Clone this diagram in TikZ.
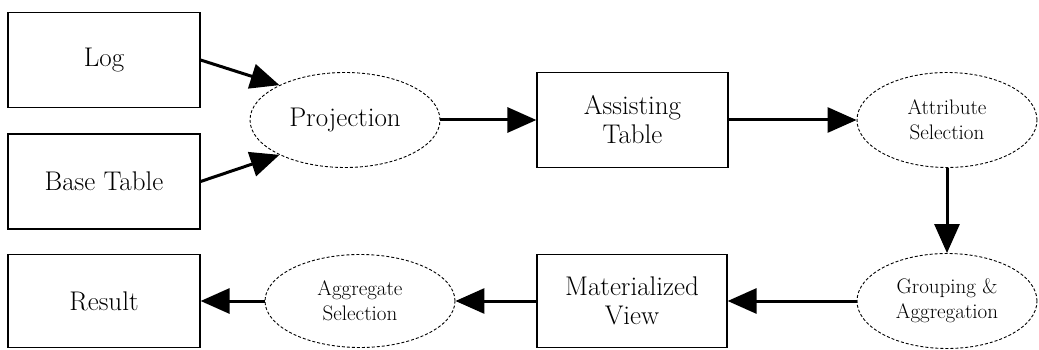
\documentclass[tikz,border=0pt]{standalone}
\usepackage{fontspec}
\usetikzlibrary{arrows.meta,shapes.geometric}
\begin{document}
\begin{tikzpicture}[x=1pt,y=-1pt,
  boxnode/.style={draw=black,line width=1.2pt,rectangle,inner sep=0pt,font=\rmfamily\fontsize{27}{29}\selectfont,align=center},
  ellnode/.style={draw=black,line width=0.9pt,densely dashed,ellipse,inner sep=0pt,align=center},
  bigtxt/.style={font=\rmfamily\fontsize{27}{29}\selectfont},
  smalltxt/.style={font=\rmfamily\fontsize{21}{25}\selectfont},
  flow/.style={line width=3pt,-{Triangle[length=29pt,width=25pt]}}]
\useasboundingbox (0,0) rectangle (1039,350);
\node[boxnode,minimum width=192pt,minimum height=95pt] (log) at (104,60) {Log};
\node[boxnode,minimum width=192pt,minimum height=95pt] (base) at (104,181.5) {Base Table};
\node[boxnode,minimum width=192pt,minimum height=93pt] (result) at (104,301) {Result};
\node[ellnode,bigtxt,minimum width=190pt,minimum height=95pt] (proj) at (345,120) {Projection};
\node[boxnode,minimum width=191pt,minimum height=95pt] (assist) at (632.5,120) {Assisting\\Table};
\node[ellnode,smalltxt,minimum width=180pt,minimum height=95pt] (attr) at (947,120) {Attribute\\Selection};
\node[ellnode,smalltxt,minimum width=180pt,minimum height=95pt] (group) at (947,301) {Grouping \&\\Aggregation};
\node[boxnode,minimum width=190pt,minimum height=93pt] (mat) at (632,301) {Materialized\\View};
\node[ellnode,smalltxt,minimum width=190pt,minimum height=93pt] (agg) at (360,301) {Aggregate\\Selection};
\draw[flow] (log.east) -- (proj.152);
\draw[flow] (base.east) -- (proj.208);
\draw[flow] (proj.east) -- (assist.west);
\draw[flow] (assist.east) -- (attr.west);
\draw[flow] (attr.south) -- (group.north);
\draw[flow] (group.west) -- (mat.east);
\draw[flow] (mat.west) -- (agg.east);
\draw[flow] (agg.west) -- (result.east);
\end{tikzpicture}
\end{document}
